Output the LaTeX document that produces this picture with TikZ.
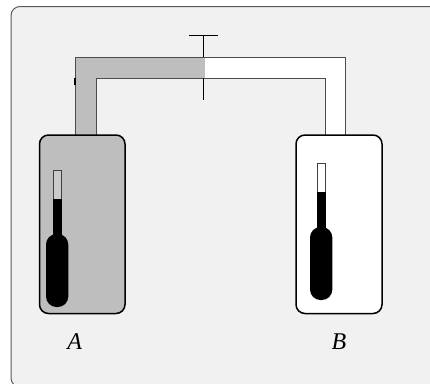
\documentclass[tikz,border=0pt]{standalone}
\usepackage{fontspec}
\setmainfont{Liberation Serif}
\definecolor{panelbg}{gray}{0.945}
\definecolor{gasgrey}{gray}{0.745}
\definecolor{panelline}{gray}{0.35}
\tikzset{
  panel/.style={draw=panelline,fill=panelbg,line width=1pt,rounded corners=9pt},
  vessel/.style={draw=black,line width=1.5pt,rounded corners=9pt},
  pipeedge/.style={draw=black!70,line width=1pt},
  valveline/.style={draw=black,line width=1pt},
  stem/.style={draw=black!75,line width=0.9pt},
  mercury/.style={fill=black,draw=none},
  caption/.style={font=\itshape\fontsize{24}{26}\selectfont,text=black,inner sep=0pt,anchor=base}
}
\begin{document}
\begin{tikzpicture}[x=1pt,y=-1pt]
\useasboundingbox (0,0) rectangle (430,383);
\fill[white] (0,0) rectangle (430,383);
% panel (right and bottom sides run off the picture)
\begin{scope}
\clip (0,0) rectangle (430,383);
\draw[panel] (445,6.5) -- (11,6.5) -- (11,387) -- (445,387);
\end{scope}
% pipe fills
\fill[gasgrey] (75,135) -- (75,57) -- (204,57) -- (204,78) -- (96,78) -- (96,135) -- cycle;
\fill[white] (204,57) -- (345.5,57) -- (345.5,135) -- (325,135) -- (325,78) -- (204,78) -- cycle;
% pipe walls
\draw[pipeedge] (75,135) -- (75,57) -- (345.5,57) -- (345.5,135);
\draw[pipeedge] (96,135) -- (96,78) -- (325,78) -- (325,135);
\fill[gasgrey] (203.4,57.5) rectangle (204.6,77.5);
\draw[black,line width=1.4pt] (74.8,78) -- (74.8,84.5);
% valve
\draw[valveline] (189,35) -- (218,35);
\draw[valveline] (203.5,35) -- (203.5,57);
\draw[valveline] (203.5,78) -- (203.5,99.5);
% vessels
\draw[vessel,fill=gasgrey] (39.5,135) rectangle (125,313.5);
\draw[vessel,fill=white] (296,135) rectangle (382,313.5);
% thermometer in A
\draw[stem,fill=panelbg!25!gasgrey] (53.5,170.5) rectangle (61,199);
\fill[mercury] (53,199) rectangle (61.5,240);
\fill[mercury,rounded corners=10.5pt] (46,234) rectangle (68.3,307);
% thermometer in B
\draw[stem,fill=white] (317,163.5) rectangle (325,192);
\fill[mercury] (316.5,192) rectangle (325.5,235);
\fill[mercury,rounded corners=10.5pt] (310,227) rectangle (332.3,300);
% labels
\node[caption] (labelA) at (74.8,349) {A};
\node[caption] (labelB) at (339,349) {B};
\end{tikzpicture}
\end{document}
